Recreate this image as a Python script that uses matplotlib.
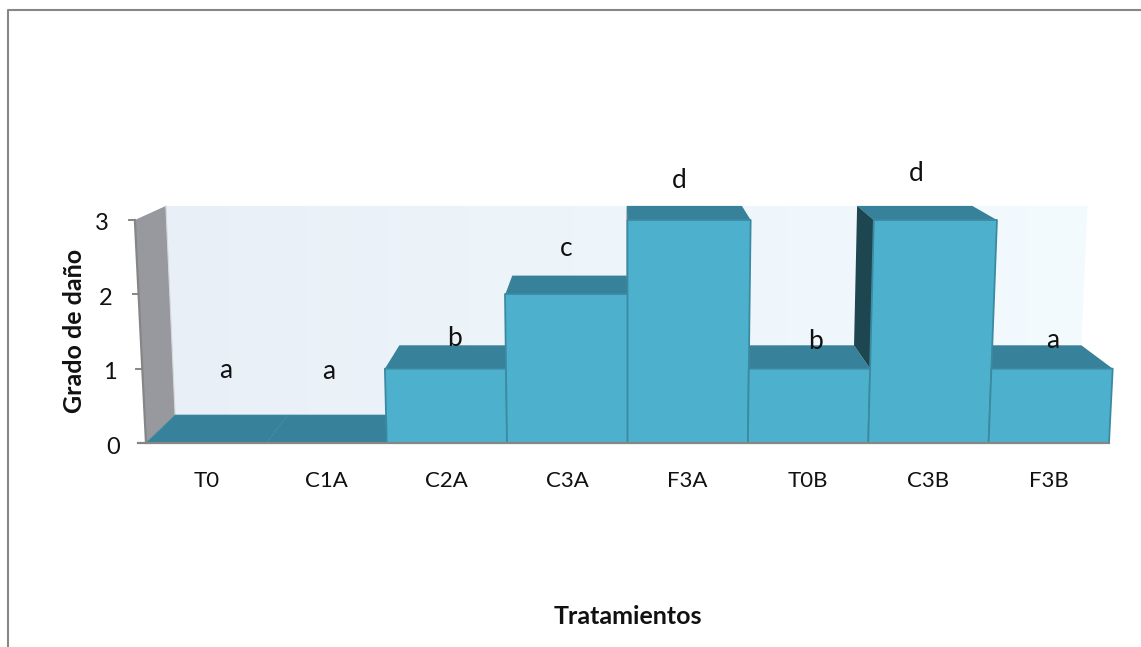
import matplotlib
matplotlib.use("Agg")
import matplotlib.pyplot as plt
import numpy as np
from matplotlib.patches import Polygon
from matplotlib.lines import Line2D
from matplotlib.transforms import ScaledTranslation

categories = ["T0", "C1A", "C2A", "C3A", "F3A", "T0B", "C3B", "F3B"]
values = [0, 0, 1, 2, 3, 1, 3, 1]
letters = ["a", "a", "b", "c", "d", "b", "d", "a"]
letter_pos_x = [0.66, 1.52, 2.56, 3.49, 4.43, 5.56, 6.40, 7.53]
letter_pos_y = [0.98, 0.96, 1.41, 2.61, 3.53, 1.36, 3.63, 1.38]
y_ticks = [0, 1, 2, 3]
xlabel = "Tratamientos"
ylabel = "Grado de daño"

FONT = "Lato"
W, H = 1141, 647
X0, X1, Y0, Y3, YTOP = 146.0, 1109.0, 443.0, 220.0, 190.0
PXX = (X1 - X0) / 8
PXY = (Y0 - Y3) / 3
BACK_PXX, BACK_PXY, BACK_LIFT, BACK_CX = 112.9, 69.7, 28.0, 626.7
SKEW, BACK_SKEW = 0.0077, 0.0068

FRONT, TOP, SIDE, EDGE = "#4DB1CD", "#38819A", "#1E4650", "#3B8AA2"

fig = plt.figure(figsize=(W / 100, H / 100), dpi=100)
fig.patch.set_facecolor("white")
ax = fig.add_axes([X0 / W, 1 - Y0 / H, (X1 - X0) / W, (Y0 - YTOP) / H])
ax.patch.set_visible(False)
for s in ax.spines.values():
    s.set_visible(False)


def proj(x, v, d=0.0):
    """Data coordinates on the plane at depth d (0 front, 1 back), with perspective."""
    fx = 4 + (x - 4) * (1 + SKEW * v)
    bx = (BACK_CX - X0 + (x - 4) * BACK_PXX * (1 + BACK_SKEW * v)) / PXX
    by = (v * BACK_PXY + BACK_LIFT) / PXY
    return (fx + (bx - fx) * d, v + (by - v) * d)


def poly(pts, z, fc, ec="none", lw=0.0):
    p = Polygon(pts, closed=True, facecolor=fc, edgecolor=ec, linewidth=lw,
                zorder=z, clip_on=False, joinstyle="round")
    ax.add_patch(p)
    return p


# back wall with a soft left-to-right gradient
wall = poly([proj(0, 0, 1), proj(8, 0, 1), proj(8, 3, 1), proj(0, 3, 1)], 1, "none")
grad = np.linspace(0, 1, 256).reshape(1, -1, 1)
c1 = np.array([0xE8, 0xEF, 0xF6]) / 255
c2 = np.array([0xF4, 0xFB, 0xFF]) / 255
im = ax.imshow(c1 + (c2 - c1) * grad, extent=(0, 8, 0, 3.4), aspect="auto",
               zorder=1, interpolation="bilinear")
im.set_clip_path(wall)

# left wall
poly([proj(0, 0, 0), proj(0, 3, 0), proj(0, 3, 1), proj(0, 0, 1)], 2, "#97999E")
ax.add_line(Line2D(*zip(proj(0, 0, 0), proj(0, 3, 0)), color="#868686", lw=1.6,
                   zorder=3, clip_on=False))
ax.add_line(Line2D(*zip(proj(0, 0, 1), proj(0, 3, 1)), color="#D5D8DC", lw=0.8,
                   zorder=3, clip_on=False))

# bars: top faces, then visible side faces, then front faces
for i, v in enumerate(values):
    poly([proj(i, v, 0), proj(i + 1, v, 0), proj(i + 1, v, 1), proj(i, v, 1)], 4, TOP,
         ec=EDGE if v == 0 else "none", lw=0.5)
    left_nb = values[i - 1] if i > 0 else 0
    if v > left_nb and proj(i, v, 1)[0] < proj(i, v, 0)[0]:
        poly([proj(i, left_nb, 0), proj(i, v, 0), proj(i, v, 1), proj(i, left_nb, 1)], 5, SIDE)
    if v > 0:
        poly([proj(i, 0, 0), proj(i + 1, 0, 0), proj(i + 1, v, 0), proj(i, v, 0)], 6,
             FRONT, ec=EDGE, lw=1.3)

# floor line and y tick marks
ax.add_line(Line2D([-0.07, 8], [0, 0], color="#868686", lw=1.6, zorder=7, clip_on=False))
for v in y_ticks[1:]:
    x, y = proj(0, v, 0)
    ax.add_line(Line2D([x - 0.05, x], [y, y], color="#868686", lw=1.4, zorder=3, clip_on=False))

# axes, scales and tick labels
ax.set_xlim(0, 8)
ax.set_ylim(0, (Y0 - YTOP) / PXY)
ax.set_xticks(np.arange(len(categories)) + 0.5)
ax.set_xticklabels(categories, fontfamily=FONT, fontsize=16, color="#111111")
ax.set_yticks(y_ticks)
ax.set_yticklabels([str(t) for t in y_ticks], fontfamily=FONT, fontsize=17, color="#111111")
ax.tick_params(axis="both", length=0)
ax.tick_params(axis="x", pad=20)
ax.tick_params(axis="y", pad=18.5)
for lab, v in zip(ax.get_yticklabels(), y_ticks):
    lab.set_transform(lab.get_transform() +
                      ScaledTranslation(-3.7 * v / 100, -2 / 100, fig.dpi_scale_trans))

# letters above the bars
for x, y, s in zip(letter_pos_x, letter_pos_y, letters):
    ax.text(x, y, s, ha="center", va="center", fontfamily=FONT, fontsize=19,
            color="#111111", zorder=9, clip_on=False)

fig.text(628 / W, 1 - 617 / H, xlabel, ha="center", va="center", fontfamily=FONT,
         fontsize=18, fontweight="bold", color="#111111")
fig.text(75 / W, 1 - 331 / H, ylabel, ha="center", va="center", rotation=90,
         fontfamily=FONT, fontsize=18, fontweight="bold", color="#111111")

# chart-area border: top and left only reach the picture frame
fig.add_artist(Line2D([8 / W, 8 / W, 1], [0, 1 - 10 / H, 1 - 10 / H], color="#878787", lw=1.5,
                      transform=fig.transFigure))

fig.savefig("out.png", dpi=100)
